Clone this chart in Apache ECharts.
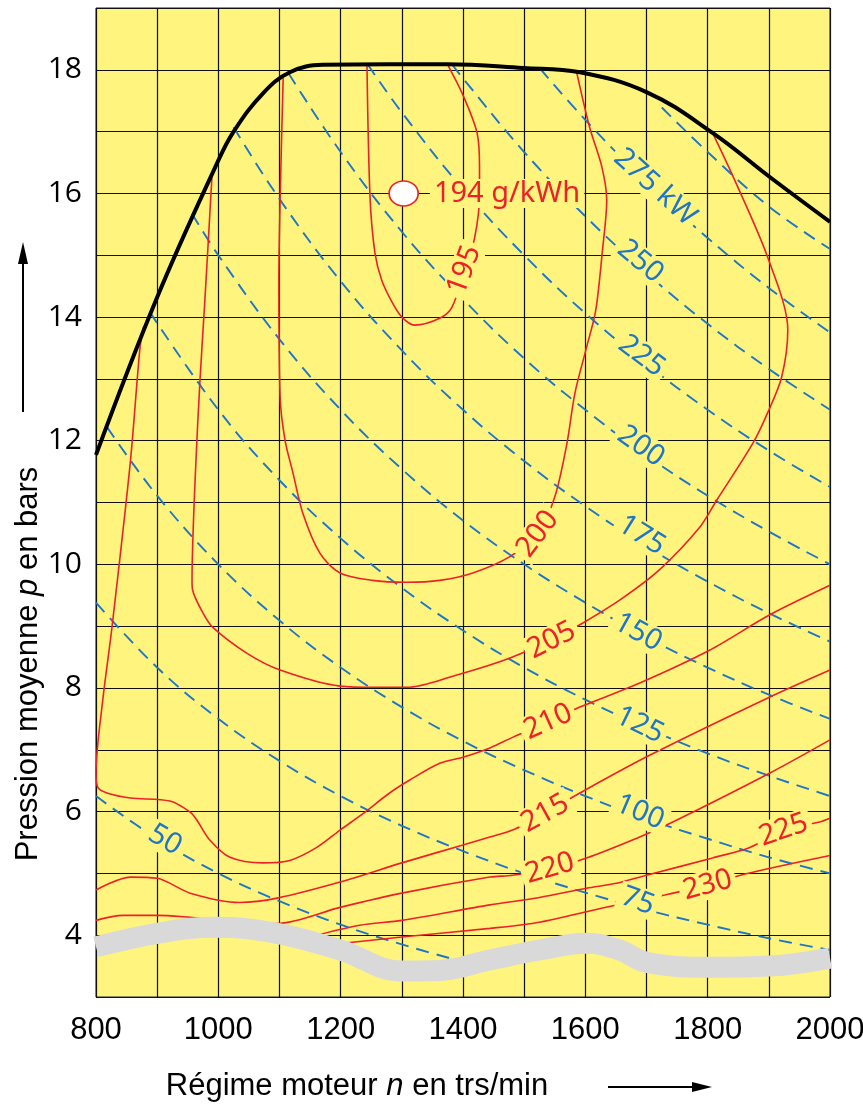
<!DOCTYPE html>
<html>
<head>
<meta charset="utf-8">
<script src="https://cdn.jsdelivr.net/npm/echarts@6/dist/echarts.min.js"></script>
<style>
  html, body { margin: 0; padding: 0; background: #fff; overflow: hidden; }
  #main { width: 863px; height: 1110px; }
</style>
</head>
<body>
<div id="main"></div>
<script>
// full-load curve (rpm, bar)
const fullLoad = [[800,11.77],[900,14.32],[998,16.49],[1025,17.0],[1073,17.62],[1117,17.96],[1171,18.08],[1280,18.09],[1373,18.09],[1498,18.03],[1591,17.96],[1700,17.64],[1808,16.98],[1901,16.27],[2000,15.54]];

// iso-power lines, kW
const p50 = [[800,6.25],[900,5.56],[1000,5.0],[1100,4.55],[1200,4.17],[1300,3.85],[1400,3.57]];
const p75 = [[800,9.38],[900,8.33],[1000,7.5],[1100,6.82],[1200,6.25],[1300,5.77],[1400,5.36],[1500,5.0],[1600,4.69],[1700,4.41],[1800,4.17],[1900,3.95],[2000,3.76]];
const p100 = [[818,12.22],[900,11.11],[1000,10.0],[1100,9.09],[1200,8.33],[1300,7.69],[1400,7.14],[1500,6.67],[1600,6.25],[1700,5.88],[1800,5.56],[1900,5.26],[2000,5.0]];
const p125 = [[888,14.08],[1000,12.5],[1100,11.36],[1200,10.42],[1300,9.62],[1400,8.93],[1500,8.33],[1600,7.81],[1700,7.35],[1800,6.94],[1900,6.58],[2000,6.25]];
const p150 = [[957,15.67],[1000,15.0],[1100,13.64],[1200,12.5],[1300,11.54],[1400,10.71],[1500,10.0],[1600,9.38],[1700,8.82],[1800,8.33],[1900,7.89],[2000,7.5]];
const p175 = [[1025,17.07],[1100,15.91],[1200,14.58],[1300,13.46],[1400,12.5],[1500,11.67],[1600,10.94],[1700,10.29],[1800,9.72],[1900,9.21],[2000,8.75]];
const p200 = [[1115,17.94],[1200,16.67],[1300,15.38],[1400,14.29],[1500,13.33],[1600,12.5],[1700,11.76],[1800,11.11],[1900,10.53],[2000,10.0]];
const p225 = [[1244,18.09],[1300,17.31],[1400,16.07],[1500,15.0],[1600,14.06],[1700,13.24],[1800,12.5],[1900,11.84],[2000,11.25]];
const p250 = [[1382,18.09],[1400,17.86],[1500,16.67],[1600,15.63],[1700,14.71],[1800,13.89],[1900,13.16],[2000,12.5]];
const p275 = [[1526,18.02],[1600,17.19],[1700,16.18],[1800,15.28],[1900,14.47],[2000,13.75]];
const p300 = [[1725,17.39],[1800,16.67],[1900,15.79],[2000,15.1]];

// iso-consumption lines, g/kWh
const b195 = [[1243,18.08],[1248,15.94],[1256,15.04],[1267,14.6],[1284,14.24],[1300,14.0],[1321,13.87],[1362,13.98],[1382,14.16],[1403,14.76],[1419,15.28],[1427,15.97],[1427,16.43],[1423,16.98],[1400,17.59],[1375,18.08]];
const b200 = [[1106,17.87],[1101,15.89],[1099,14.6],[1101,12.71],[1109,12.01],[1122,11.48],[1138,10.83],[1166,10.18],[1199,9.86],[1252,9.74],[1308,9.71],[1362,9.74],[1416,9.86],[1476,10.12],[1522,10.49],[1550,11.09],[1570,11.96],[1583,12.77],[1602,13.51],[1617,14.11],[1628,15.08],[1635,15.89],[1627,16.43],[1607,17.07],[1586,17.95]];
const b205 = [[990,16.35],[978,14.27],[970,12.98],[962,11.36],[957,9.74],[958,9.58],[975,9.21],[991,8.98],[1047,8.56],[1101,8.29],[1199,8.03],[1259,8.01],[1308,8.01],[1390,8.21],[1444,8.37],[1481,8.5],[1545,8.77],[1596,9.05],[1656,9.42],[1721,9.91],[1787,10.6],[1815,11.04],[1874,11.96],[1898,12.45],[1921,13.03],[1931,13.79],[1898,14.97],[1844,16.22],[1808,16.98]];
const b210 = [[878,13.85],[872,13.51],[856,11.64],[826,8.97],[811,7.8],[800,6.62],[803,6.39],[818,6.3],[856,6.22],[921,6.17],[954,5.99],[965,5.86],[986,5.54],[1019,5.26],[1073,5.17],[1117,5.21],[1161,5.42],[1199,5.7],[1237,5.97],[1280,6.3],[1313,6.51],[1362,6.78],[1400,6.88],[1444,7.03],[1481,7.2],[1539,7.45],[1591,7.69],[1689,8.08],[1803,8.61],[1901,9.18],[2000,9.66]];
const b215 = [[800,4.73],[856,4.94],[900,4.92],[954,4.68],[1035,4.53],[1096,4.6],[1199,4.86],[1300,5.17],[1400,5.46],[1444,5.59],[1481,5.7],[1534,5.97],[1591,6.3],[1705,6.91],[1901,7.85],[2000,8.29]];
const b220 = [[800,4.24],[844,4.32],[900,4.32],[954,4.29],[1096,4.19],[1199,4.45],[1300,4.68],[1444,4.94],[1481,4.97],[1542,5.08],[1602,5.25],[1689,5.59],[1743,5.83],[1901,6.62],[2000,7.16]];
const b225 = [[1150,3.97],[1231,4.16],[1300,4.24],[1444,4.49],[1525,4.61],[1602,4.76],[1651,4.84],[1700,4.97],[1808,5.25],[1869,5.42],[1924,5.7],[1983,5.83],[2000,5.89]];
const b230 = [[1185,3.85],[1300,3.97],[1444,4.11],[1525,4.21],[1628,4.44],[1730,4.65],[1800,4.81],[1861,4.99],[2000,5.29]];

// grey band at the bottom
const band = [[800,3.81],[900,4.03],[995,4.13],[1096,4.03],[1199,3.76],[1300,3.42],[1362,3.43],[1444,3.6],[1525,3.76],[1602,3.87],[1656,3.76],[1700,3.56],[1808,3.48],[1901,3.5],[2000,3.63]];

// best point
const bestPoint = [[1303,16.0]];

// labels: rpm, bar, text, angle
const powerLabels = [[1714,16.1,'275 kW',-42],[1690,14.9,'250',-40],[1692,13.37,'225',-37],[1691,11.91,'200',-35],[1692,10.47,'175',-32],[1686,8.9,'150',-29],[1689,7.4,'125',-26],[1689,5.99,'100',-23],[1686,4.55,'75',-20],[913,5.54,'50',-30]];
const bsfcLabels = [[1472,16.0,'194 g/kWh',0],[1402,14.76,'195',70],[1522,10.49,'200',53],[1545,8.77,'205',27],[1539,7.45,'210',24],[1534,5.97,'215',29],[1542,5.08,'220',16],[1924,5.7,'225',19],[1800,4.81,'230',15]];

const xTicks = [800,1000,1200,1400,1600,1800,2000];
const yTicks = [4,6,8,10,12,14,16,18];

const YELLOW = '#FFF57E';
const RED = '#EC2228';
const BLUE = '#1F75C6';

const chart = echarts.init(document.getElementById('main'), null, {width: 863, height: 1110});

function blue(data) {
  return {type: 'line', data: data, smooth: 0.4, symbol: 'none', silent: true, z: 2,
    lineStyle: {color: BLUE, width: 1.9, type: [13, 8]}};
}
function red(data) {
  return {type: 'line', data: data, smooth: 0.3, symbol: 'none', silent: true, z: 3,
    lineStyle: {color: RED, width: 1.6}};
}
function labels(list, color) {
  return {
    type: 'scatter', symbolSize: 0, silent: true, z: 10,
    itemStyle: {opacity: 1},
    data: list.map(l => ({value: [l[0], l[1]], name: l[2], label: {rotate: l[3]}})),
    label: {
      show: true, position: 'inside', formatter: '{b}', color: color, opacity: 1,
      textBorderWidth: 0, textBorderColor: 'transparent',
      fontFamily: 'Noto Sans', fontSize: 29, backgroundColor: YELLOW, padding: [0, 4]
    }
  };
}

let option = {
  animation: false,
  grid: {left: 96, right: 33, top: 8, bottom: 113, outerBoundsMode: 'none', containLabel: false,
    show: true, backgroundColor: YELLOW, borderColor: '#222', borderWidth: 1},
  xAxis: {
    type: 'value', min: 800, max: 2000, interval: 100,
    axisLine: {show: false}, axisTick: {show: false},
    splitLine: {lineStyle: {color: '#111', width: 1.2}},
    axisLabel: {
      margin: 18, color: '#000', fontFamily: 'Liberation Sans Narrow, Liberation Sans', fontSize: 31,
      formatter: v => xTicks.includes(v) ? String(v) : ''
    }
  },
  yAxis: {
    type: 'value', min: 3, max: 19, interval: 1,
    axisLine: {show: false}, axisTick: {show: false},
    splitLine: {lineStyle: {color: '#111', width: 1.2}},
    axisLabel: {
      margin: 14, color: '#000', fontFamily: 'Open Sans', fontSize: 30,
      formatter: v => yTicks.includes(v) ? String(v) : ''
    }
  },
  graphic: [
    {type: 'text', x: 28, y: 664, rotation: Math.PI / 2,
      style: {text: 'Pression moyenne {i|p} en bars', fill: '#000', font: '31px "Liberation Sans Narrow", "Liberation Sans"',
        align: 'center', verticalAlign: 'middle',
        rich: {i: {fontStyle: 'italic', font: 'italic 31px "Liberation Sans Narrow", "Liberation Sans"'}}}},
    {type: 'line', shape: {x1: 23, y1: 412, x2: 23, y2: 262}, style: {stroke: '#000', lineWidth: 2}},
    {type: 'polygon', shape: {points: [[23, 242], [18, 264], [28, 264]]}, style: {fill: '#000'}},
    {type: 'text', x: 357, y: 1086,
      style: {text: 'Régime moteur {i|n} en trs/min', fill: '#000', font: '31px "Liberation Sans Narrow", "Liberation Sans"',
        align: 'center', verticalAlign: 'middle',
        rich: {i: {fontStyle: 'italic', font: 'italic 31px "Liberation Sans Narrow", "Liberation Sans"'}}}},
    {type: 'line', shape: {x1: 608, y1: 1087, x2: 694, y2: 1087}, style: {stroke: '#000', lineWidth: 2}},
    {type: 'polygon', shape: {points: [[712, 1087], [692, 1082], [692, 1092]]}, style: {fill: '#000'}}
  ],
  series: [
    blue(p50), blue(p75), blue(p100), blue(p125), blue(p150), blue(p175),
    blue(p200), blue(p225), blue(p250), blue(p275), blue(p300),
    red(b195), red(b200), red(b205), red(b210), red(b215), red(b220), red(b225), red(b230),
    {type: 'line', data: band, smooth: 0.4, symbol: 'none', silent: true, z: 5,
      lineStyle: {color: '#D9D9D9', width: 21, cap: 'butt'}},
    {type: 'line', data: fullLoad, smooth: 0.4, symbol: 'none', silent: true, z: 6,
      lineStyle: {color: '#000', width: 4}},
    {type: 'scatter', data: bestPoint, symbol: 'circle', symbolSize: [29, 25], silent: true, z: 8,
      itemStyle: {color: '#fff', opacity: 1, borderColor: RED, borderWidth: 1.6}},
    labels(powerLabels, BLUE),
    labels(bsfcLabels, RED)
  ]
};
chart.setOption(option);
</script>
</body>
</html>
